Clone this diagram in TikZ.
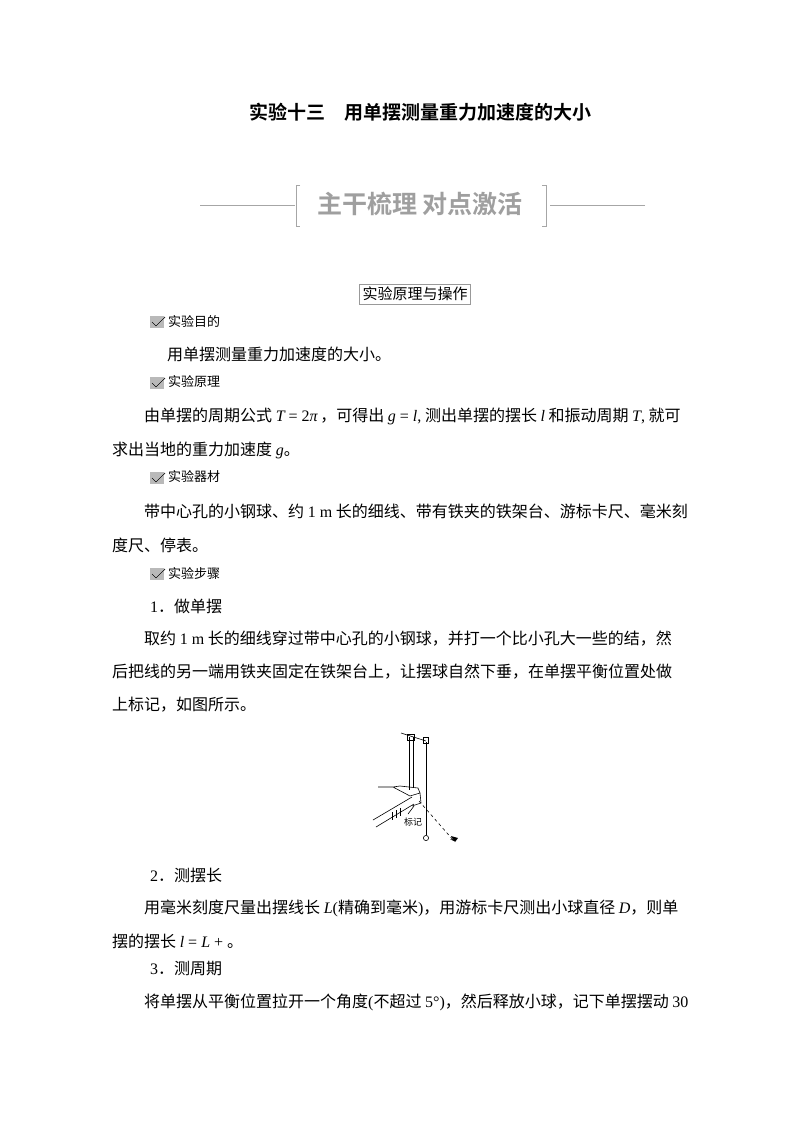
\documentclass[tikz,border=0pt]{standalone}
\usepackage{fontspec}
\setmainfont{Liberation Serif}
\newfontfamily\cjk{Noto Sans CJK SC}
\newfontfamily\cjkb{Noto Sans CJK SC Bold}
\tikzset{
 txt/.style={anchor=west,inner sep=0pt,font=\cjk\fontsize{16}{18}\selectfont},
 head/.style={anchor=west,inner sep=0pt,font=\cjk\fontsize{13}{15}\selectfont},
 fig/.style={line width=0.6pt},
}
\newcommand{\mi}[1]{{\rmfamily\itshape #1}}
\newcommand{\mr}[1]{{\rmfamily #1}}
\newcommand{\chk}[1]{\fill[gray!55] (#1) ++(0,-6) rectangle ++(14,12);
 \draw[white,line width=1.4pt] (#1) ++(2,0) -- ++(4,4) -- ++(9,-9);
 \draw[gray!30!black,line width=0.8pt] (#1) ++(2,0) -- ++(4,4) -- ++(9,-9);}
\begin{document}
\begin{tikzpicture}[x=1pt,y=-1pt]
\useasboundingbox (0,0) rectangle (800,1132);
\fill[white] (0,0) rectangle (800,1132);
\node[inner sep=0pt,font=\cjkb\fontsize{19}{22}\selectfont] (title) at (420,112) {实验十三\hspace{1em}用单摆测量重力加速度的大小};
% banner
\node[inner sep=0pt,text=gray!75,font=\cjkb\fontsize{25}{28}\selectfont] (ban) at (420,204) {主干梳理 对点激活};
\draw[gray!70,line width=0.7pt] (200,205) -- (295,205) (300,185) -- (296,185) -- (296,226) -- (300,226);
\draw[gray!70,line width=0.7pt] (645,205) -- (550,205) (542,185) -- (546,185) -- (546,226) -- (542,226);
\node[draw=gray!80,inner sep=3pt,font=\cjk\fontsize{15}{17}\selectfont] (box) at (415,294) {实验原理与操作};
% sections
\chk{150,322} \node[head] (h1) at (168,321) {实验目的};
\node[txt] (l1) at (167,354) {用单摆测量重力加速度的大小。};
\chk{150,383} \node[head] (h2) at (168,382) {实验原理};
\node[txt] (l2) at (144,416) {由单摆的周期公式 \mi{T}\mr{ = 2}\mi{π}\,，可得出 \mi{g}\mr{ = }\mi{l}\mr{,} 测出单摆的摆长 \mi{l} 和振动周期 \mi{T}\mr{,} 就可};
\node[txt] (l3) at (112,450) {求出当地的重力加速度 \mi{g}。};
\chk{150,478} \node[head] (h3) at (168,477) {实验器材};
\node[txt] (l4) at (144,511) {带中心孔的小钢球、约 \mr{1 m} 长的细线、带有铁夹的铁架台、游标卡尺、毫米刻};
\node[txt] (l5) at (112,545) {度尺、停表。};
\chk{150,574} \node[head] (h4) at (168,573) {实验步骤};
\node[txt] (l6) at (150,606) {\mr{1}．做单摆};
\node[txt] (l7) at (144,639) {取约 \mr{1 m} 长的细线穿过带中心孔的小钢球，并打一个比小孔大一些的结，然};
\node[txt] (l8) at (112,672) {后把线的另一端用铁夹固定在铁架台上，让摆球自然下垂，在单摆平衡位置处做};
\node[txt] (l9) at (112,705) {上标记，如图所示。};
% figure
\draw[fig] (409,737) -- (409,790) (413,737) -- (413,788);
\draw[fig] (401,733) -- (426,741);
\draw[fig] (407,734) rectangle (414,740);
\draw[fig] (423,737) rectangle (428,743);
\draw[fig] (426,742) -- (426,835);
\draw[fig,fill=white] (426,838) circle (2.6);
\draw[fig] (378,787) -- (393,787) -- (410,796) -- (420,793) -- (418,788) -- (400,786) -- (393,787);
\draw[fig] (420,793) -- (421,803) -- (412,806);
\draw[fig] (373,820) -- (412,797) (376,827) -- (414,804);
\draw[fig] (392,812) -- (392,820) (396,810) -- (396,818) (400,808) -- (400,816);
\node[inner sep=0pt,font=\cjk\fontsize{9}{10}\selectfont] (mark) at (413,822) {标记};
\draw[fig] (408,814) -- (414,806);
\coordinate (tip) at (454,841);
\draw[fig,dashed,-stealth] (419,801) -- (tip);
\fill (455,842) -- (451,836) -- (458,838) -- cycle;
% text
\node[txt] (l10) at (150,875) {\mr{2}．测摆长};
\node[txt] (l11) at (144,908) {用毫米刻度尺量出摆线长 \mi{L}\mr{(}精确到毫米\mr{)}，用游标卡尺测出小球直径 \mi{D}，则单};
\node[txt] (l12) at (112,941) {摆的摆长 \mi{l}\mr{ = }\mi{L}\mr{ + }。};
\node[txt] (l13) at (150,969) {\mr{3}．测周期};
\node[txt] (l14) at (144,1002) {将单摆从平衡位置拉开一个角度\mr{(}不超过 \mr{5°)}，然后释放小球，记下单摆摆动 \mr{30}};
\end{tikzpicture}
\end{document}
